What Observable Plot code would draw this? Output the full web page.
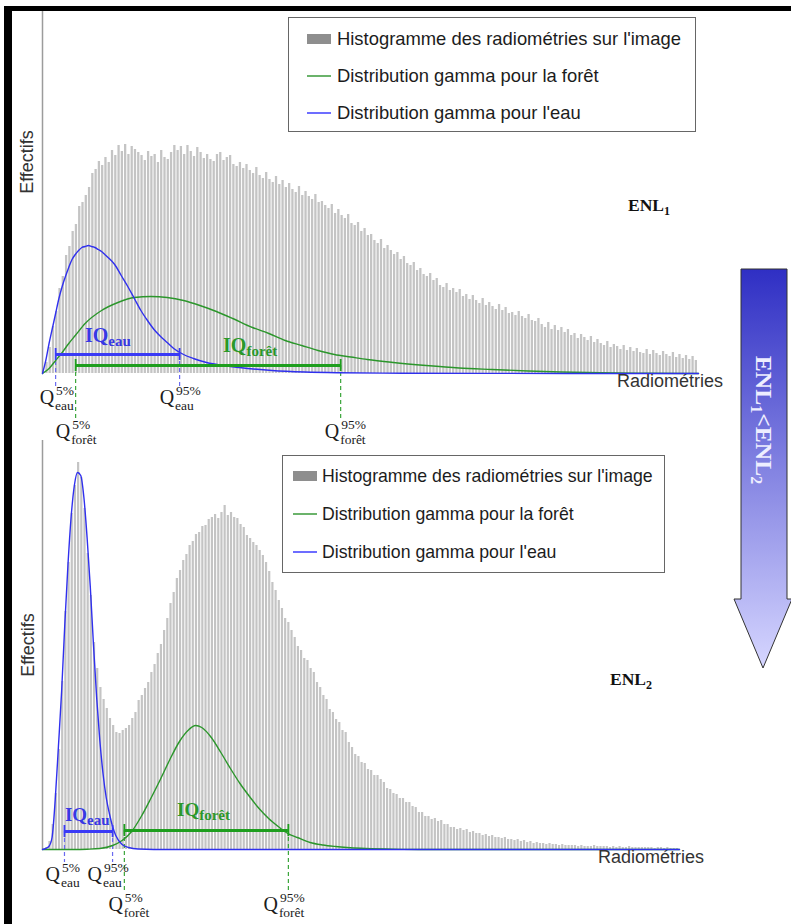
<!DOCTYPE html>
<html lang="fr">
<head>
<meta charset="utf-8">
<script src="https://cdn.jsdelivr.net/npm/d3@7"></script>
<script src="https://cdn.jsdelivr.net/npm/@observablehq/plot@0.6"></script>
<style>
html,body{margin:0;padding:0;background:#fff;}
#root{position:relative;width:791px;height:924px;overflow:hidden;background:#fff;}
#root > svg{position:absolute;left:0;}
</style>
</head>
<body>
<div id="root"></div>
<script>
// ---------- DATA ----------
// Histogram counts (arbitrary units), one value per radiometry bin (200 bins)
const hist1 = [
  2, 11, 26, 47, 62, 85, 97, 118, 127, 142,
  149, 167, 171, 178, 186, 200, 204, 212, 208, 216,
  211, 223, 218, 228, 222, 229, 219, 227, 224, 221,
  218, 213, 222, 217, 219, 211, 223, 216, 214, 221,
  228, 223, 227, 219, 228, 222, 217, 226, 221, 215,
  219, 214, 212, 219, 221, 213, 216, 218, 209, 207,
  211, 205, 209, 203, 200, 206, 198, 195, 201, 194,
  191, 197, 189, 193, 186, 190, 184, 181, 187, 178,
  182, 177, 174, 179, 171, 172, 168, 165, 169, 160,
  164, 158, 155, 159, 150, 148, 151, 142, 145, 138,
  139, 133, 130, 134, 125, 128, 123, 119, 121, 114,
  117, 110, 108, 111, 103, 105, 99, 97, 100, 93,
  95, 88, 86, 90, 83, 85, 81, 84, 77, 79,
  74, 78, 73, 70, 75, 68, 71, 67, 64, 69,
  63, 66, 60, 61, 58, 62, 57, 55, 59, 53,
  52, 55, 49, 46, 51, 44, 48, 43, 46, 41,
  44, 38, 40, 35, 39, 36, 33, 37, 31, 34,
  30, 28, 32, 26, 29, 27, 24, 28, 23, 26,
  22, 25, 21, 20, 24, 19, 23, 20, 18, 22,
  19, 17, 21, 16, 19, 15, 18, 14, 17, 13
];
const hist2 = [
  0, 2, 8, 25, 56, 100, 168, 238, 287, 336,
  364, 387, 372, 341, 296, 254, 207, 181, 162, 150,
  141, 131, 124, 117, 116, 119, 121, 124, 131, 137,
  149, 154, 161, 167, 177, 185, 196, 205, 219, 231,
  246, 257, 271, 279, 289, 295, 304, 308, 315, 317,
  323, 324, 330, 332, 335, 331, 337, 344, 334, 337,
  332, 331, 325, 322, 314, 311, 307, 304, 299, 294,
  287, 278, 267, 259, 249, 241, 231, 227, 219, 212,
  203, 199, 191, 189, 181, 177, 167, 162, 154, 150,
  140, 137, 130, 127, 119, 117, 107, 102, 95, 93,
  87, 86, 80, 79, 74, 74, 70, 67, 61, 60,
  56, 55, 51, 51, 47, 47, 43, 42, 37, 37,
  33, 33, 30, 31, 28, 29, 25, 25, 22, 22,
  20, 21, 19, 20, 17, 18, 16, 16, 14, 15,
  13, 14, 12, 12, 11, 12, 10, 10, 9, 10,
  8, 9, 7, 8, 6, 7, 6, 6, 5, 6,
  5, 5, 4, 5, 4, 4, 4, 4, 3, 4,
  3, 3, 3, 4, 3, 3, 3, 3, 2, 3,
  2, 3, 2, 2, 3, 2, 2, 2, 2, 2,
  2, 2, 1, 2, 2, 1, 2, 1, 1, 1
];

// Gamma distributions (radiometry bin, scaled density) — panel 1 (ENL1)
const water1X = [0,1,2,3,4,5,6,7,8,9,10,11,12,13,14,15,16,17,18,19,20,22,24,26,28,30,32,34,36,38,40,43,46,50,55,60,70,80,90,110,140,200];
const water1Y = [0,13,30,45,60,75,87,97,106,114,119,123,126,127,128,127,126,124,122,119,116,109,98,87,75,63,53,44,37,31,25,19,15,11,8,6,3,1.5,0.8,0.3,0.1,0];
const forest1X = [0,2,4,6,8,10,13,18,23,28,33,38,43,48,53,58,64,69,74,79,84,89,94,99,107,117,127,137,148,158,170,185,200];
const forest1Y = [0,5,13,21,30,38,50,63,71,76,77,76,73,68,62,55,46,40,33,28,23,19,16.5,14,11,8,5.5,4,2.5,1.5,0.7,0.3,0];

// panel 2 (ENL2)
const water2X = [0,1,2,3,4,5,6,7,8,9,10,11,12,13,14,15,16,17,18,19,20,21,22,23,25,27,30,40,200];
const water2Y = [0,1,3,12,50,103,158,225,285,333,364,377,374,352,312,263,205,152,109,76,52,36,23,14,5,2,0.5,0,0];
const forest2X = [0,10,14,18,22,25,28,31,34,37,40,43,46,48,50,53,56,59,62,65,68,71,74,77,80,84,88,92,100,110,120,200];
const forest2Y = [0,0,0.3,1,4,9,18,33,51,70,90,108,120,124,122,112,97,81,66,53,41,31,23,16,12,7,4.5,3,1.2,0.4,0,0];

// Quantiles 5% / 95% (radiometry bins)
const eauQ1 = [4.0, 41.8];
const foretQ1 = [10.1, 90.9];
const eauQ2 = [6.9, 22.0];
const foretQ2 = [25.7, 77.2];
const quantileLevels = ["5%", "95%"];

// Texts
const legendLabels = ["Histogramme des radiométries sur l'image", "Distribution gamma pour la forêt", "Distribution gamma pour l'eau"];
const panelNames = ["1", "2"];
const xLabel = "Radiométries";
const yLabel = "Effectifs";

// ---------- STYLE ----------
const SERIF = "'Liberation Serif','Times New Roman',Times,serif";
const SANS = "'Liberation Sans',Arial,Helvetica,sans-serif";
const C = {
  bar: "#c4c4c4", axis: "#9c9c9c", blue: "#3030ee", green: "#2b962b",
  blueBar: "#3a3af6", greenBar: "#1e9e1e", blueText: "#3838e4", greenText: "#2a982a",
  blueDash: "#6a6af0", greenDash: "#3aa53a", text: "#1c1c1c", label: "#333"
};

const layouts = [
  { top: 0, height: 450, marginTop: 11, marginBottom: 77, marginRight: 93, yMax: 362,
    iqEau: 19, iqForet: 8, dashEau: 15, dashForet: 45,
    iqEauLbl: [13.1, 31], iqForetLbl: [55.2, 21], iqBig: 20, iqSmall: 15,
    qEau: 31, qForet: 65, qOff: [0, -4, -4, 0],
    eff: [27, 162], enl: [628, 211] },
  { top: 436, height: 488, marginTop: 4, marginBottom: 75, marginRight: 112, yMax: 409,
    iqEau: 18, iqForet: 19, dashEau: 13, dashForet: 41,
    iqEauLbl: [7.2, 28], iqForetLbl: [42.4, 33], iqBig: 19, iqSmall: 15,
    qEau: 32, qForet: 62, qOff: [-3, -9, 0, -9],
    eff: [28, 209], enl: [610, 249] }
];

const root = document.getElementById("root");

function qLabel(g, x, base, sup, sub) {
  const q = g.append("g").attr("font-family", SERIF).attr("fill", C.text).attr("text-anchor", "start");
  q.append("text").attr("x", x - 1).attr("y", base).attr("text-anchor", "end").attr("font-size", 20).text("Q");
  q.append("text").attr("x", x + 1).attr("y", base - 9).attr("font-size", 13.5).text(sup);
  q.append("text").attr("x", x).attr("y", base + 6).attr("font-size", 13.5).text(sub);
}

function iqLabel(g, x, y, sub, color, big, small) {
  const t = g.append("text").attr("x", x).attr("y", y).attr("font-family", SERIF)
    .attr("font-weight", "bold").attr("fill", color).attr("text-anchor", "start");
  t.append("tspan").attr("font-size", big).text("IQ");
  t.append("tspan").attr("font-size", small).attr("dy", 4).text(sub);
}

function drawPanel(k, hist, wX, wY, fX, fY, eQ, fQ) {
  const L = layouts[k];
  const histData = hist.map((v, i) => ({x1: i, x2: i + 1, y0: 0, y: v}));
  const water = wX.map((x, i) => ({x, y: wY[i]}));
  const forest = fX.map((x, i) => ({x, y: fY[i]}));
  const dashes = [
    ...eQ.map(q => ({x: q, y1: L.iqEau, y2: -L.dashEau, c: C.blueDash})),
    ...fQ.map(q => ({x: q, y1: L.iqForet, y2: -L.dashForet, c: C.greenDash}))
  ];
  const caps = [
    ...eQ.map(q => ({x: q, y1: L.iqEau - 6, y2: L.iqEau + 6, c: C.blueBar})),
    ...fQ.map(q => ({x: q, y1: L.iqForet - 6, y2: L.iqForet + 6, c: C.greenBar}))
  ];
  const bars = [
    {y: L.iqEau, x1: eQ[0], x2: eQ[1], c: C.blueBar},
    {y: L.iqForet, x1: fQ[0], x2: fQ[1], c: C.greenBar}
  ];
  const plot = Plot.plot({
    width: 791, height: L.height,
    marginLeft: 42, marginRight: L.marginRight, marginTop: L.marginTop, marginBottom: L.marginBottom,
    x: {domain: [0, 200], axis: null},
    y: {domain: [0, L.yMax], axis: null},
    style: {background: "transparent", overflow: "visible"},
    marks: [
      Plot.rect(histData, {x1: "x1", x2: "x2", y1: "y0", y2: "y", fill: C.bar, insetRight: 1}),
      Plot.ruleX([0], {stroke: C.axis, strokeWidth: 1.5}),
      Plot.ruleX(dashes, {x: "x", y1: "y1", y2: "y2", stroke: "c", strokeWidth: 1.2, strokeDasharray: "4,3"}),
      Plot.line(forest, {x: "x", y: "y", stroke: C.green, strokeWidth: 1.4, curve: "monotone-x"}),
      Plot.line(water, {x: "x", y: "y", stroke: C.blue, strokeWidth: 1.4, curve: "monotone-x"}),
      Plot.ruleY(bars, {y: "y", x1: "x1", x2: "x2", stroke: "c", strokeWidth: 3.2}),
      Plot.ruleX(caps, {x: "x", y1: "y1", y2: "y2", stroke: "c", strokeWidth: 1.8})
    ]
  });
  plot.style.top = L.top + "px";
  root.appendChild(plot);

  const svg = d3.select(plot);
  const g = svg.append("g").attr("text-anchor", "start");
  const sx = plot.scale("x"), sy = plot.scale("y");
  const X = v => sx.apply(v), Y = v => sy.apply(v);
  const base = Y(0);

  // axis titles
  g.append("text").attr("transform", `translate(${L.eff[0]},${L.eff[1]}) rotate(-90)`)
    .attr("text-anchor", "middle").attr("dy", "0.35em").attr("font-family", SANS).attr("font-size", 18)
    .attr("fill", C.label).text(yLabel);
  g.append("text").attr("x", X(200) - 81).attr("y", base + 14).attr("font-family", SANS)
    .attr("font-size", 18).attr("fill", C.label).attr("text-anchor", "start").text(xLabel);

  // IQ labels
  iqLabel(g, X(L.iqEauLbl[0]), Y(L.iqEauLbl[1]), "eau", C.blueText, L.iqBig, L.iqSmall);
  iqLabel(g, X(L.iqForetLbl[0]), Y(L.iqForetLbl[1]), "forêt", C.greenText, L.iqBig, L.iqSmall);

  // Quantile labels
  qLabel(g, X(eQ[0]) + L.qOff[0], base + L.qEau, quantileLevels[0], "eau");
  qLabel(g, X(eQ[1]) + L.qOff[1], base + L.qEau, quantileLevels[1], "eau");
  qLabel(g, X(fQ[0]) + L.qOff[2], base + L.qForet, quantileLevels[0], "forêt");
  qLabel(g, X(fQ[1]) + L.qOff[3], base + L.qForet, quantileLevels[1], "forêt");

  // ENL label
  const t = g.append("text").attr("x", L.enl[0]).attr("y", L.enl[1]).attr("font-family", SERIF)
    .attr("font-weight", "bold").attr("font-size", 17.5).attr("fill", "#111").attr("text-anchor", "start");
  t.append("tspan").text("ENL");
  t.append("tspan").attr("font-size", 12).attr("dy", 4).text(panelNames[k]);
}

drawPanel(0, hist1, water1X, water1Y, forest1X, forest1Y, eauQ1, foretQ1);
drawPanel(1, hist2, water2X, water2Y, forest2X, forest2Y, eauQ2, foretQ2);

// ---------- OVERLAY: legends, frame, arrow ----------
const ov = d3.select(root).append("svg").attr("width", 791).attr("height", 924)
  .style("top", "0px").style("pointer-events", "none");

function legend(box) {
  const g = ov.append("g");
  g.append("rect").attr("x", box.x + 0.5).attr("y", box.y + 0.5).attr("width", box.w).attr("height", box.h)
    .attr("fill", "#fff").attr("stroke", "#666").attr("stroke-width", 1);
  legendLabels.forEach((lab, i) => {
    const cy = box.y + box.rows[i];
    if (i === 0) {
      g.append("rect").attr("x", box.x + box.sw).attr("y", cy - 5).attr("width", 24).attr("height", 10).attr("fill", "#8e8e8e");
    } else {
      g.append("line").attr("x1", box.x + box.sw).attr("x2", box.x + box.sw + 24).attr("y1", cy).attr("y2", cy)
        .attr("stroke", i === 1 ? "#3a9a3a" : "#3c3cff").attr("stroke-width", 1.5);
    }
    g.append("text").attr("x", box.x + box.tx).attr("y", cy + 6).attr("font-family", SANS).attr("font-size", box.fs)
      .attr("fill", C.text).text(lab);
  });
}
legend({x: 288, y: 17, w: 407, h: 114, rows: [22, 59, 96], sw: 19, tx: 49, fs: 18.4});
legend({x: 282, y: 455, w: 382, h: 117, rows: [21, 59, 97], sw: 11, tx: 40, fs: 17.7});

// black frame (left and top)
ov.append("rect").attr("x", 4).attr("y", 6).attr("width", 8).attr("height", 918).attr("fill", "#000");
ov.append("rect").attr("x", 4).attr("y", 6).attr("width", 787).attr("height", 5).attr("fill", "#000");

// arrow ENL1 < ENL2
const defs = ov.append("defs");
const grad = defs.append("linearGradient").attr("id", "arrowGrad").attr("x1", 0).attr("y1", 0).attr("x2", 0).attr("y2", 1);
grad.append("stop").attr("offset", "0%").attr("stop-color", "#2f2fc4");
grad.append("stop").attr("offset", "100%").attr("stop-color", "#d6d6ff");
ov.append("path")
  .attr("d", "M741,269 L787,269 L787,599 L792,599 L763,668 L734,599 L741,599 Z")
  .attr("fill", "url(#arrowGrad)").attr("stroke", "#333").attr("stroke-width", 1);
const at = ov.append("text").attr("transform", "translate(764,420) rotate(90)").attr("text-anchor", "middle")
  .attr("dy", "0.35em").attr("font-family", SERIF).attr("font-weight", "bold").attr("font-size", 24).attr("fill", "#eeeeff");
at.append("tspan").text("ENL");
at.append("tspan").attr("font-size", 16).attr("dy", 5).text("1");
at.append("tspan").attr("dy", -5).text("<ENL");
at.append("tspan").attr("font-size", 16).attr("dy", 5).text("2");
</script>
</body>
</html>
